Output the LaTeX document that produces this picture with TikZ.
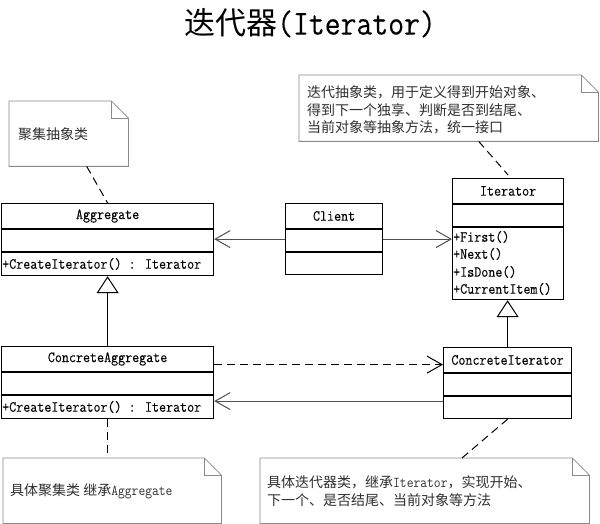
\documentclass[tikz,border=0pt]{standalone}
\usepackage{fontspec}
\newfontfamily\cjk{Noto Sans CJK SC}
\newfontfamily\boxtt[FakeStretch=0.88,FakeBold=0.15]{Latin Modern Mono}
\newfontfamily\notett[FakeStretch=0.88]{Latin Modern Mono}
\usetikzlibrary{arrows.meta}
\newcommand{\latn}[1]{{\notett\fontsize{15}{18}\selectfont #1}}
\definecolor{notegray}{HTML}{8A8A8A}
\definecolor{notetxt}{HTML}{303030}
\definecolor{linegray}{HTML}{505050}
\tikzset{
 umlbox/.style={draw=black,line width=1.2pt,inner sep=0pt,anchor=north west,fill=white},
 divider/.style={draw=black,line width=1.2pt},
 cname/.style={font=\boxtt\fontsize{15.5}{16}\selectfont,inner sep=0pt},
 cmeth/.style={font=\boxtt\fontsize{15.5}{16}\selectfont,inner sep=1pt,anchor=west},
 notearea/.style={inner sep=0pt,anchor=north west},
 noteline/.style={draw=notegray,line width=0.8pt},
 notetext/.style={font=\fontsize{14}{18}\selectfont\cjk,text=notetxt,inner sep=0pt,anchor=west},
 assoc/.style={draw=linegray,line width=1pt,-{Straight Barb[length=15pt,width=17pt]}},
 depend/.style={draw=black,line width=1pt,dash pattern=on 8pt off 5pt,-{Straight Barb[length=15pt,width=17pt]}},
 notelink/.style={draw=black,line width=1pt,dash pattern=on 8pt off 5pt},
 gen/.style={draw=black,line width=1pt,-{Triangle[open,length=17pt,width=22pt,fill=white]}},
}
\begin{document}
\begin{tikzpicture}[x=1pt,y=-1pt]
\fill[white] (0,0) rectangle (600,524);
\useasboundingbox (0,0) rectangle (600,524);

% title
\node (title) at (310,23) {\fontsize{31}{31}\selectfont{\cjk 迭代器}{\boxtt\fontsize{35}{35}\selectfont (Iterator)}};

% class boxes
\node[umlbox,minimum width=212pt,minimum height=72pt] (agg) at (1,203) {};
\node[umlbox,minimum width=97pt,minimum height=71pt] (cli) at (285,203) {};
\node[umlbox,minimum width=111pt,minimum height=121pt] (it) at (452,178) {};
\node[umlbox,minimum width=212pt,minimum height=72pt] (ca) at (1,346) {};
\node[umlbox,minimum width=128pt,minimum height=71pt] (ci) at (443,347) {};

% dividers
\foreach \b in {agg,ca,cli,ci}{
  \draw[divider] ([yshift=-26pt]\b.north west) -- ([yshift=-26pt]\b.north east);
  \draw[divider] ([yshift=-49pt]\b.north west) -- ([yshift=-49pt]\b.north east);
}
\draw[divider] ([yshift=-26pt]it.north west) -- ([yshift=-26pt]it.north east);
\draw[divider] ([yshift=-49pt]it.north west) -- ([yshift=-49pt]it.north east);

% class names
\node[cname] (aggn) at ([yshift=-13pt]agg.north) {Aggregate};
\node[cname] (clin) at ([yshift=-13pt]cli.north) {Client};
\node[cname] (itn) at ([yshift=-13pt]it.north) {Iterator};
\node[cname] (can) at ([yshift=-13pt]ca.north) {ConcreteAggregate};
\node[cname] (cin) at ([yshift=-13pt]ci.north) {ConcreteIterator};

% methods
\node[cmeth] (aggm) at ([yshift=-61pt]agg.north west) {+CreateIterator() : Iterator};
\node[cmeth] (cam) at ([yshift=-61pt]ca.north west) {+CreateIterator() : Iterator};
\node[cmeth] (itm1) at ([yshift=-59pt]it.north west) {+First()};
\node[cmeth] (itm2) at ([yshift=-76pt]it.north west) {+Next()};
\node[cmeth] (itm3) at ([yshift=-94pt]it.north west) {+IsDone()};
\node[cmeth] (itm4) at ([yshift=-111pt]it.north west) {+CurrentItem()};

% notes
\node[notearea,minimum width=119pt,minimum height=65pt] (n1) at (9,101) {};
\node[notearea,minimum width=299pt,minimum height=66pt] (n2) at (299,75) {};
\node[notearea,minimum width=218pt,minimum height=65pt] (n3) at (3,458) {};
\node[notearea,minimum width=329pt,minimum height=65pt] (n4) at (260,458) {};
\foreach \n in {n1,n2,n3,n4}{
  \draw[noteline] (\n.north west) -- ([xshift=-17pt]\n.north east) -- ([yshift=-17pt]\n.north east) -- (\n.south east) -- (\n.south west) -- cycle;
  \draw[noteline] ([xshift=-17pt]\n.north east) -- ([xshift=-17pt,yshift=-17pt]\n.north east) -- ([yshift=-17pt]\n.north east);
}
\node[notetext] (t1) at (18,134) {聚集抽象类};
\node[notetext] (t2a) at (307,92) {迭代抽象类，用于定义得到开始对象、};
\node[notetext] (t2b) at (307,110) {得到下一个独享、判断是否到结尾、};
\node[notetext] (t2c) at (307,127) {当前对象等抽象方法，统一接口};
\node[notetext] (t3) at (10,491) {具体聚集类 继承\latn{Aggregate}};
\node[notetext] (t4a) at (267,482) {具体迭代器类，继承\latn{Iterator}，实现开始、};
\node[notetext] (t4b) at (267,500) {下一个、是否结尾、当前对象等方法};

% connectors
\draw[assoc] (cli.west) -- (cli.west -| agg.east);
\draw[assoc] (cli.east) -- (cli.east -| it.west);
\draw[gen] (ca.north) -- (agg.south);
\draw[gen] (ci.north) -- (ci.north |- it.south);
\draw[depend] ([yshift=18pt]ca.east) -- ([yshift=18pt]ca.east -| ci.west);
\draw[assoc] ([yshift=-18pt]ci.west) -- ([yshift=-18pt]ci.west -| ca.east);
\draw[notelink] ([xshift=18pt]n1.south) -- (agg.north);
\draw[notelink] ([xshift=30pt]n2.south) -- ([yshift=3pt]it.north);
\draw[notelink] (ca.south) -- (ca.south |- n3.north);
\draw[notelink] ([xshift=202pt]n4.north west) -- (ci.south);
\end{tikzpicture}
\end{document}
